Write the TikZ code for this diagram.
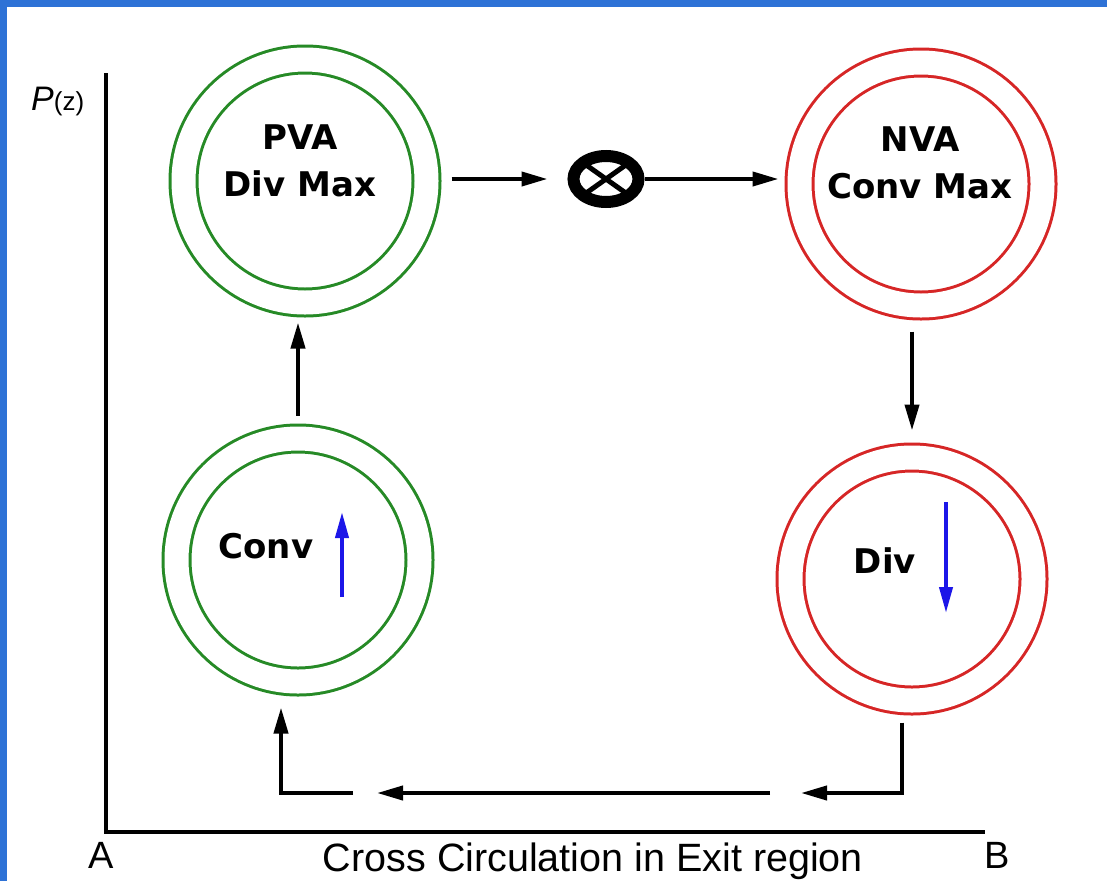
\documentclass[tikz,border=0pt]{standalone}
\usepackage{fontspec}
\setmainfont{Liberation Sans}
\newfontfamily\ringfont{DejaVu Sans}
\usetikzlibrary{calc,arrows.meta,shapes.geometric}

\definecolor{frameblue}{RGB}{46,114,214}
\definecolor{pvagreen}{RGB}{38,138,38}
\definecolor{nvared}{RGB}{214,38,38}
\definecolor{arrowblue}{RGB}{28,22,232}

\tikzset{
  ring/.style={circle, draw=#1, line width=3pt, double=white, double distance=24pt,
    minimum size=243pt, inner sep=0pt, outer sep=0pt},
  ringtext/.style={font=\ringfont\bfseries\fontsize{34}{47}\selectfont, align=center, inner sep=0pt},
  flow/.style={line width=4pt, -{Triangle[length=26pt,width=14pt]}},
  sense/.style={draw=arrowblue, line width=4pt, -{Triangle[length=26pt,width=13pt]}},
  axistext/.style={font=\fontsize{38}{40}\selectfont, inner sep=0pt},
}

\begin{document}
\begin{tikzpicture}[x=1pt, y=-1pt]
	\useasboundingbox (0,0) rectangle (1107,881);
	\fill[white] (0,0) rectangle (1107,881);
	\fill[frameblue] (0,0) rectangle (1107,7);
	\fill[frameblue] (0,0) rectangle (7,881);

	% axes
	\coordinate (ytop) at (106,73);
	\coordinate (origin) at (106,832);
	\coordinate (xend) at (985,832);
	\draw[line width=4.5pt] (ytop) -- (origin) -- (xend);
	\node[anchor=base west, inner sep=0pt] (pz) at (31,110)
		{\fontsize{34}{36}\selectfont\itshape P\upshape\fontsize{26}{28}\selectfont(z)};
	\node[axistext, anchor=base] (a) at (101,868) {A};
	\node[axistext, anchor=base] (b) at (997,868) {B};
	\node[axistext, font=\fontsize{39.5}{41}\selectfont, anchor=base] (xlabel) at (593,871)
		{Cross Circulation in Exit region};

	% vorticity centres
	\node[ring=pvagreen] (pva) at (305,181) {};
	\node[ring=nvared] (nva) at (921,184) {};
	\node[ring=pvagreen] (conv) at (298,560) {};
	\node[ring=nvared] (div) at (912,579) {};
	\node[ringtext] (pvatext) at (300,161) {PVA\\Div Max};
	\node[ringtext] (nvatext) at (920,163) {NVA\\Conv Max};
	\node[ringtext, anchor=base] (convtext) at (266,558) {Conv};
	\node[ringtext, anchor=base] (divtext) at (885,573) {Div};

	% vertical motion
	\coordinate (convtail) at (342,597);
	\coordinate (convhead) at (342,512);
	\coordinate (divtail) at (946,502);
	\coordinate (divhead) at (946,613);
	\draw[sense] (convtail) -- (convhead);
	\draw[sense] (divtail) -- (divhead);

	% jet axis
	\node[ellipse, draw, line width=12pt, minimum width=65pt, minimum height=46pt, inner sep=0pt,
		path picture={\draw[line width=5pt]
			(path picture bounding box.north west) -- (path picture bounding box.south east)
			(path picture bounding box.south west) -- (path picture bounding box.north east);}]
		(cross) at (606,179) {};

	\draw[flow, shorten <=25pt, shorten >=20pt] (pva.east |- cross.west) -- (cross.west);
	\draw[flow, shorten >=21pt] (cross.east) -- (cross.east -| nva.west);
	\draw[flow, shorten <=26pt, shorten >=27pt] (div.north |- nva.south) -- (div.north);
	\draw[flow, shorten <=23pt, shorten >=20pt] (conv.north) -- (conv.north |- pva.south);

	% return flow underneath
	\coordinate (turnR) at (902,793);
	\coordinate (tipR) at (801,793);
	\coordinate (tailM) at (770,793);
	\coordinate (tipM) at (377,793);
	\coordinate (tailL) at (353,793);
	\coordinate (turnL) at (281,793);
	\draw[flow] ([xshift=-10pt,yshift=-22pt]div.south) -- (turnR) -- (tipR);
	\draw[flow] (tailM) -- (tipM);
	\draw[flow] (tailL) -- (turnL) -- ([xshift=-17pt,yshift=-26pt]conv.south);
\end{tikzpicture}
\end{document}
